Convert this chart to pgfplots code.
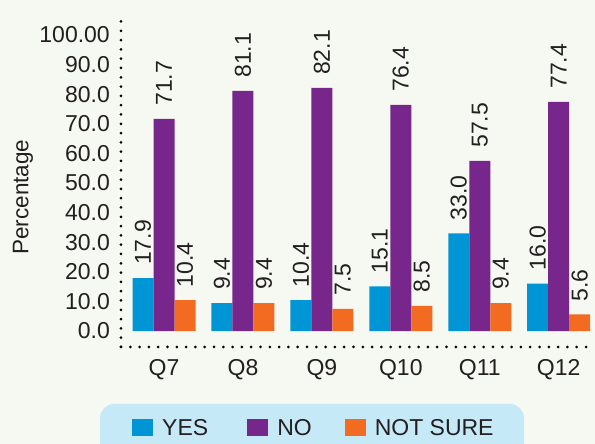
\documentclass[border=0pt]{standalone}
\usepackage{pgfplots}
\pgfplotsset{compat=1.18}
\usepackage{fontspec}
\setmainfont{Liberation Sans}
\definecolor{bg}{HTML}{F6F9F1}
\definecolor{legbg}{HTML}{C6E9F8}
\definecolor{cyes}{HTML}{0096D6}
\definecolor{cno}{HTML}{77268B}
\definecolor{cns}{HTML}{F26B21}
\definecolor{txt}{HTML}{231F20}
\begin{document}
\begin{tikzpicture}[x=1pt,y=1pt]
\fill[bg] (0,0) rectangle (595,444);
\fill[legbg, rounded corners=14pt] (100,-20) rectangle (524,40);
\begin{axis}[
  at={(121pt,97pt)}, anchor=south west,
  scale only axis, width=474pt, height=333pt,
  xmin=-0.545, xmax=5.46, ymin=-5.4, ymax=107.1,
  axis x line=bottom, axis y line=left,
  axis line style={black, line width=3pt, dash pattern=on 0pt off 9.3pt, line cap=round, -},
  major tick length=0pt,
  ybar=0pt, bar width=21pt,
  xtick={0,...,5}, xticklabels={Q7,Q8,Q9,Q10,Q11,Q12},
  ytick={0,10,...,100},
  yticklabels={0.0,10.0,20.0,30.0,40.0,50.0,60.0,70.0,80.0,90.0,100.00},
  tick label style={font=\fontsize{23}{27}\selectfont, text=txt, inner sep=0pt},
  yticklabel shift=11pt, xticklabel shift=12pt,
  ylabel={Percentage},
  ylabel style={at={(axis description cs:-0.207,0.45)}, anchor=center, font=\fontsize{22.5}{26}\selectfont, text=txt},
  nodes near coords={\pgfmathprintnumber[fixed,fixed zerofill,precision=1,assume math mode=true]{\pgfplotspointmeta}},
  nodes near coords style={font=\fontsize{23}{27}\selectfont, text=txt, rotate=90, anchor=west, inner xsep=13pt, inner ysep=0pt},
  every axis plot post/.append style={legend image code/.code={\fill[##1] (0pt,-8.5pt) rectangle (21pt,8.5pt);}},
  legend columns=3,
  legend style={at={(axis description cs:0.407,-0.243)}, anchor=center, draw=none, fill=none,
    font=\fontsize{23}{27}\selectfont, text=txt,
    /tikz/every odd column/.style={column sep=7pt},
    /tikz/column 2/.style={column sep=37pt}, /tikz/column 4/.style={column sep=31pt}},
  clip=false,
]
\addplot[fill=cyes, draw=none] coordinates {(0,17.9) (1,9.4) (2,10.4) (3,15.1) (4,33.0) (5,16.0)};
\addplot[fill=cno, draw=none] coordinates {(0,71.7) (1,81.1) (2,82.1) (3,76.4) (4,57.5) (5,77.4)};
\addplot[fill=cns, draw=none] coordinates {(0,10.4) (1,9.4) (2,7.5) (3,8.5) (4,9.4) (5,5.6)};
\legend{YES,NO,NOT SURE}
\end{axis}
\pgfresetboundingbox
\useasboundingbox (0,0) rectangle (595,444);
\end{tikzpicture}
\end{document}
